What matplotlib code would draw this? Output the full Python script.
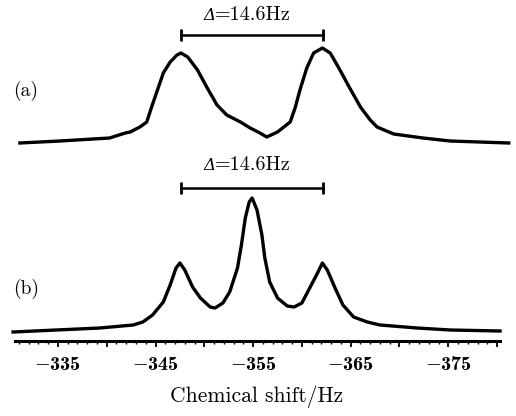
import numpy as np
import matplotlib
matplotlib.use("Agg")
import matplotlib.pyplot as plt
import matplotlib.ticker as ticker

plt.rcParams.update({
    "font.family": "cmr10",
    "mathtext.fontset": "cm",
    "axes.formatter.use_mathtext": True,
    "axes.unicode_minus": True,
})

# spectrum (a): doublet, chemical shift (Hz) and intensity (a.u.)
shift_a = [-331.1, -335.2, -340.3, -341.9, -342.4, -343.4, -344.1, -344.6,
           -345.2, -345.8, -346.5, -347.2, -347.6, -348.3, -349.3, -350.3,
           -351.3, -352.3, -353.7, -354.7, -355.7, -356.4, -357.5,
           -358.8, -359.3, -359.8, -360.5, -361.2, -362.1, -362.9, -363.9,
           -364.9, -366.0, -367.0, -367.7, -369.4, -372.4, -375.2, -381.2]
inten_a = [0, 2, 5, 10, 11, 16, 21, 36,
           53, 70, 81, 88, 90, 86, 73, 55,
           38, 28, 21, 15, 10, 6, 11,
           21, 35, 53, 75, 90, 95, 90, 73,
           55, 36, 23, 16, 9, 5, 2, 0]

# spectrum (b): triplet
shift_b = [-330.4, -339.3, -342.7, -343.7, -344.7, -345.8, -346.5, -347.1,
           -347.5, -348.0, -348.8, -349.6, -350.6, -351.1, -351.9, -352.6,
           -353.4, -353.8, -354.2, -354.6, -354.9, -355.4, -355.9, -356.2,
           -356.7, -357.5, -358.5, -359.2, -360.0, -360.8, -361.6, -362.1,
           -362.6, -363.4, -364.2, -365.3, -366.7, -368.0, -371.8, -375.2,
           -380.3]
inten_b = [0, 4, 7, 10, 17, 30, 47, 64,
           69, 62, 45, 34, 25, 24, 29, 40,
           64, 87, 114, 130, 134, 122, 97, 74,
           50, 34, 26, 25, 29, 44, 59, 69,
           62, 44, 27, 15, 10, 7, 4, 2,
           1]

outer_peaks = [-347.6, -362.2]
splitting = 14.6
offset_a = 189

fig = plt.figure(figsize=(5.16, 4.16), dpi=100)
ax = fig.add_axes([15 / 516, 75 / 416, 485 / 516, 341 / 416])

ax.plot(shift_a, np.array(inten_a) + offset_a, color="black", lw=2.4,
        solid_joinstyle="round", clip_on=False)
ax.plot(shift_b, inten_b, color="black", lw=2.4,
        solid_joinstyle="round", clip_on=False)

# splitting bars with  "Δ=14.6Hz"  (italic Delta)
for bar_y, text_y in ((297, 317), (144, 167)):
    ax.plot(outer_peaks, [bar_y, bar_y], color="black", lw=1.8,
            marker="|", ms=8, mew=2, clip_on=False)
    xc = np.mean(outer_peaks)
    ax.annotate("\u0394", (xc, text_y), xytext=(-26, 0),
                textcoords="offset points", ha="right", va="center",
                family="DejaVu Serif", style="italic", fontsize=12)
    ax.annotate(f"={splitting}Hz", (xc, text_y), xytext=(-27, 0),
                textcoords="offset points", ha="left", va="center",
                fontsize=14.5)

ax.text(-330.4, 241, "(a)", ha="left", va="center", fontsize=14)
ax.text(-330.4, 43, "(b)", ha="left", va="center", fontsize=14)

ax.set_xlim(-330.6, -380.3)
ax.set_ylim(-9, 332)

for s in ("top", "right", "left"):
    ax.spines[s].set_visible(False)
ax.spines["bottom"].set_linewidth(2.2)
ax.set_yticks([])

ax.xaxis.set_major_locator(ticker.MultipleLocator(5))
ax.xaxis.set_minor_locator(ticker.MultipleLocator(1))
ax.xaxis.set_major_formatter(ticker.FuncFormatter(
    lambda v, p: f"$-${abs(v):.0f}" if round(abs(v)) % 10 == 5 else ""))
ax.tick_params(axis="x", which="major", length=4.5, width=1.3,
               direction="out", pad=6, labelsize=14.5)
for lbl in ax.get_xticklabels():
    lbl.set_family("cmb10")
ax.tick_params(axis="x", which="minor", length=2.5, width=1.0,
               direction="out")

fig.text(257 / 516, 1 - 397 / 416, "Chemical shift/Hz", ha="center",
         va="center", fontsize=15.5)

fig.savefig("out.png", dpi=100)
